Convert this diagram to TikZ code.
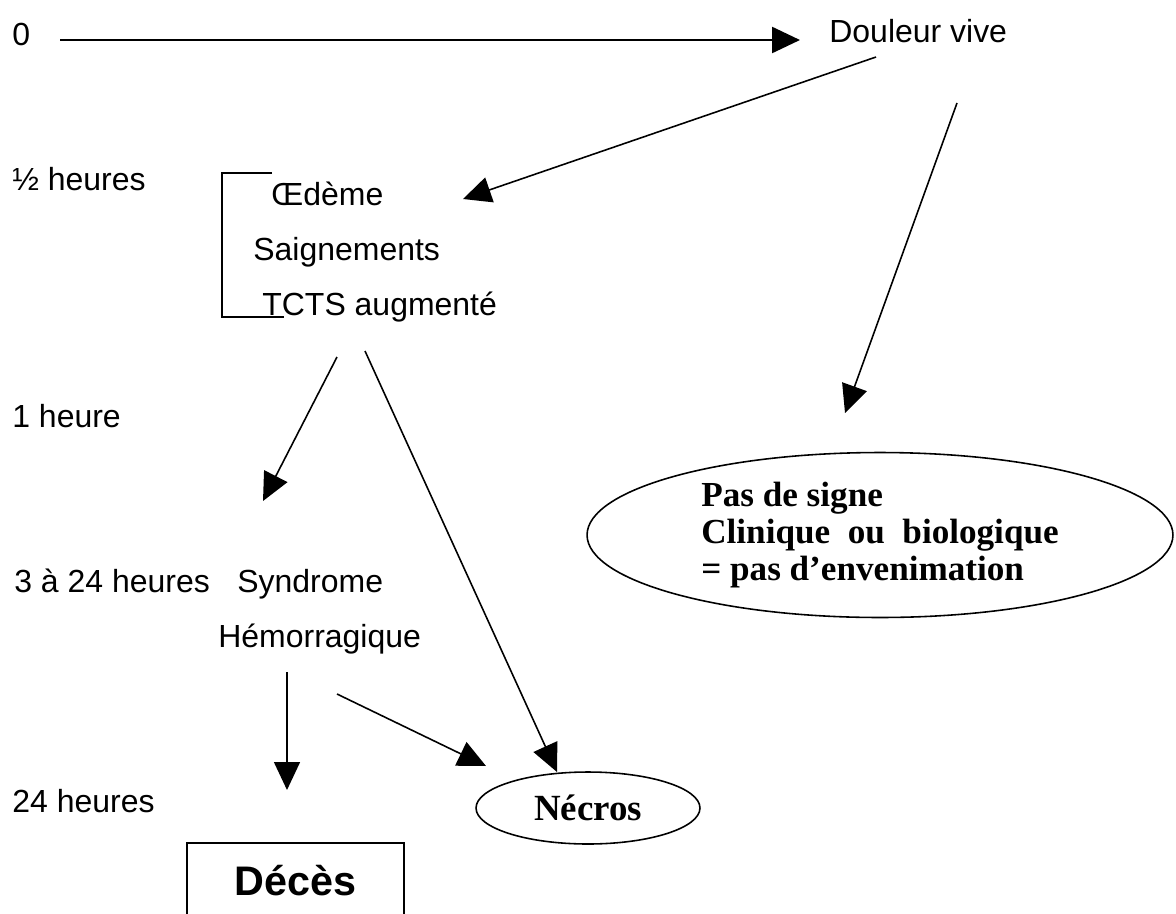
\documentclass[tikz,border=0pt]{standalone}
\usepackage{fontspec}
\setmainfont{Liberation Serif}
\setsansfont{Liberation Sans}
\usetikzlibrary{arrows.meta,shapes.geometric}
\tikzset{
  etiq/.style={anchor=base west, inner sep=0pt, font=\sffamily\fontsize{18.2}{21}\selectfont},
  fleche/.style={-{Triangle[length=0.56cm,width=0.52cm]}, line width=0.9pt},
}
\begin{document}
\begin{tikzpicture}[x=0.02cm,y=-0.02cm]
\useasboundingbox (0,0) rectangle (1176,913);
% colonne des temps
\node[etiq] (t0) at (12,45) {0};
\node[etiq] (t1) at (12,190) {½ heures};
\node[etiq] (t2) at (12,427) {1 heure};
\node[etiq] (t3) at (14,592) {3 à 24 heures};
\node[etiq] (t4) at (12,812) {24 heures};
% symptomes
\node[etiq] (douleur) at (829,42) {Douleur vive};
\node[etiq] (oedeme) at (271,205) {Œdème};
\node[etiq] (saign) at (253,260) {Saignements};
\node[etiq] (tcts) at (262,315) {TCTS augmenté};
\node[etiq] (synd) at (237,592) {Syndrome};
\node[etiq] (hemo) at (218,647) {Hémorragique};
\draw[line width=0.9pt] (272,173) -| (222,317) -- (284,317);
% issues
\node[draw, ellipse, line width=0.9pt, inner sep=0pt, minimum width=11.72cm, minimum height=3.3cm,
  align=left, font=\rmfamily\bfseries\fontsize{20}{21.2}\selectfont] (pasenv) at (880,535)
  {Pas de signe\\Clinique~~ou~~biologique\\= pas d’envenimation};
\node[draw, ellipse, line width=0.9pt, inner sep=0pt, minimum width=4.48cm, minimum height=1.44cm,
  font=\rmfamily\bfseries\fontsize{21}{24}\selectfont] (necros) at (588,808) {Nécros};
\node[draw, rectangle, line width=0.9pt, anchor=north, minimum width=4.34cm, minimum height=1.52cm,
  font=\sffamily\bfseries\fontsize{23.5}{26}\selectfont] (deces) at (295.5,842) {Décès};
% fleches
\coordinate (a0) at (60,40);  \coordinate (a1) at (800,40);
\coordinate (b0) at (876,57); \coordinate (b1) at (463,199);
\coordinate (c0) at (957,103); \coordinate (c1) at (845,413);
\coordinate (d0) at (337,357); \coordinate (d1) at (263,501);
\coordinate (e0) at (365,351); \coordinate (e1) at (557,772);
\coordinate (f0) at (337,694); \coordinate (f1) at (486,766);
\coordinate (g0) at (287,672); \coordinate (g1) at (287,790);
\draw[fleche, line width=1.4pt] (a0) -- (a1);
\draw[fleche] (b0) -- (b1);
\draw[fleche] (c0) -- (c1);
\draw[fleche] (d0) -- (d1);
\draw[fleche] (e0) -- (e1);
\draw[fleche] (f0) -- (f1);
\draw[fleche] (g0) -- (g1);
\end{tikzpicture}
\end{document}
